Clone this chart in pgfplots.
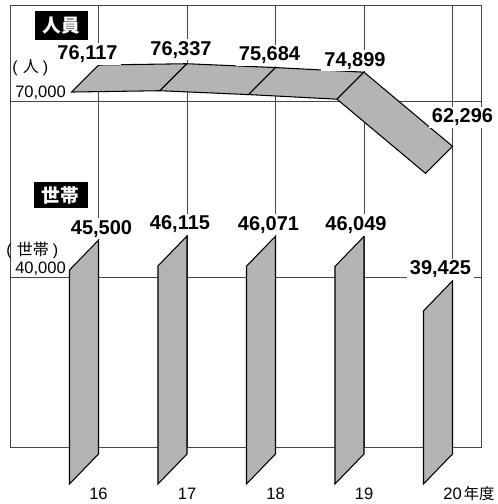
\documentclass[border=0pt]{standalone}
\usepackage{pgfplots}
\pgfplotsset{compat=1.18}
\usepackage{fontspec}
\setmainfont{Liberation Sans}
\newfontfamily\jp{Noto Sans CJK JP}
\definecolor{barfill}{RGB}{180,180,180}
\definecolor{gridc}{RGB}{70,70,70}
\tikzset{
  lab/.style={font=\fontsize{15}{18}\selectfont\bfseries, fill=white, inner xsep=2.5pt, inner ysep=1.5pt, anchor=base},
  yr/.style={anchor=base, font=\fontsize{12.4}{14}\selectfont, yshift=-39pt},
}
\pgfplotsset{
  panel/.style={
    scale only axis, width=353.25pt, xmin=15, xmax=20.322,
    axis line style={draw=none}, major tick length=0pt,
    xtick={16,17,18,19,20}, xticklabel=\empty, yticklabel=\empty,
    scaled ticks=false,
    grid=major, grid style={gridc, line width=0.7pt},
    clip=false,
  },
}
\begin{document}
\begin{tikzpicture}[x=1pt,y=1pt]
\path[use as bounding box] (0,0) rectangle (372.75,-378);
\draw[gridc, line width=0.7pt] (7.5,-3.75) rectangle (360.75,-335.25);

% ---- 人員 (people) ----
\begin{axis}[panel, at={(7.5pt,-142.5pt)}, anchor=south west,
  height=138.75pt, ymin=54870, ymax=86320, ytick={70000}]
\addplot[fill=barfill, draw=black, line width=0.8pt] coordinates {(16,76117) (17,76337) (16.695,71747) (15.695,71527)} -- cycle;
\addplot[fill=barfill, draw=black, line width=0.8pt] coordinates {(17,76337) (18,75684) (17.695,71094) (16.695,71747)} -- cycle;
\addplot[fill=barfill, draw=black, line width=0.8pt] coordinates {(18,75684) (19,74899) (18.695,70309) (17.695,71094)} -- cycle;
\addplot[fill=barfill, draw=black, line width=0.8pt] coordinates {(19,74899) (20,62296) (19.695,57706) (18.695,70309)} -- cycle;
\node[lab, xshift=-8.25pt, yshift=4.2pt] at (axis cs:16,76117) {76,117};
\node[lab, xshift=-4.5pt, yshift=6.5pt] at (axis cs:17,76337) {76,337};
\node[lab, xshift=-4.5pt, yshift=5pt] at (axis cs:18,75684) {75,684};
\node[lab, xshift=-6.75pt, yshift=4.6pt] at (axis cs:19,74899) {74,899};
\node[lab, xshift=7.5pt, yshift=17.5pt] at (axis cs:20,62296) {62,296};
\end{axis}

% ---- 世帯 (households) ----
\begin{axis}[panel, at={(7.5pt,-335.25pt)}, anchor=south west,
  height=192.75pt, ymin=14670, ymax=52963, ytick={40000}]
\addplot[fill=barfill, draw=black, line width=0.8pt] coordinates {(16,45500) (16,13627) (15.672,9157) (15.672,41030)} -- cycle;
\addplot[fill=barfill, draw=black, line width=0.8pt] coordinates {(17,46115) (17,13627) (16.672,9157) (16.672,41645)} -- cycle;
\addplot[fill=barfill, draw=black, line width=0.8pt] coordinates {(18,46071) (18,13627) (17.672,9157) (17.672,41601)} -- cycle;
\addplot[fill=barfill, draw=black, line width=0.8pt] coordinates {(19,46049) (19,13627) (18.672,9157) (18.672,41579)} -- cycle;
\addplot[fill=barfill, draw=black, line width=0.8pt] coordinates {(20,39425) (20,13627) (19.672,9157) (19.672,34955)} -- cycle;
\node[lab, xshift=2.25pt, yshift=4.5pt] at (axis cs:16,45500) {45,500};
\node[lab, xshift=-5.25pt, yshift=4.5pt] at (axis cs:17,46115) {46,115};
\node[lab, xshift=-5.25pt, yshift=4.5pt] at (axis cs:18,46071) {46,071};
\node[lab, xshift=-6pt, yshift=4.5pt] at (axis cs:19,46049) {46,049};
\node[lab, xshift=-9pt, yshift=4.5pt] at (axis cs:20,39425) {39,425};
\node[yr] at (axis cs:16,14670) {16};
\node[yr] at (axis cs:17,14670) {17};
\node[yr] at (axis cs:18,14670) {18};
\node[yr] at (axis cs:19,14670) {19};
\node[yr, anchor=base west, inner sep=0pt, xshift=-7pt] at (axis cs:20,14670) {20\hspace{1.5pt}{\jp\fontsize{11.5}{14}\selectfont 年度}};
\end{axis}

% ---- captions and axis texts ----
\node[fill=black, text=white, font=\jp\bfseries\fontsize{14}{16}\selectfont, minimum width=39.75pt, minimum height=21.75pt, inner sep=0pt] at (46.1,-19.1) {人員};
\node[fill=black, text=white, font=\jp\bfseries\fontsize{14}{16}\selectfont, minimum width=40.5pt, minimum height=19.5pt, inner sep=0pt] at (45.4,-146.6) {世帯};
\node[anchor=west, inner sep=0pt, font=\fontsize{12}{14}\selectfont] at (9,-51) {(\hspace{4pt}{\jp 人}\hspace{3pt})};
\node[anchor=west, inner sep=0pt, font=\fontsize{12}{14}\selectfont] at (4.5,-187.5) {(\hspace{4pt}{\jp 世帯}\hspace{3pt})};
\node[anchor=base west, inner sep=0pt, font=\fontsize{12.4}{14}\selectfont] at (11.25,-72.75) {70,000};
\node[anchor=base west, inner sep=0pt, font=\fontsize{12.4}{14}\selectfont] at (11.25,-204.75) {40,000};
\end{tikzpicture}
\end{document}
